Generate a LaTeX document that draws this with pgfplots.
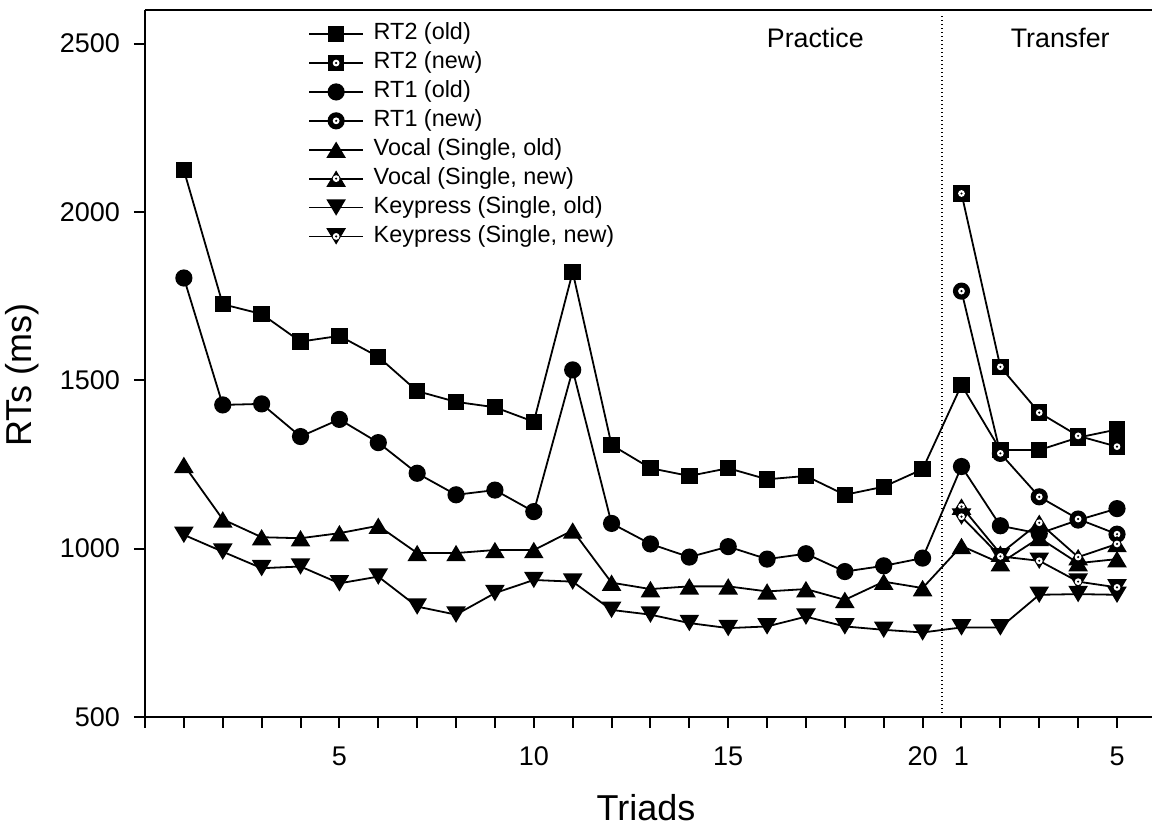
\documentclass[border=0pt]{standalone}
\usepackage{fontspec}
\setmainfont{Liberation Sans}
\usepackage{pgfplots}
\pgfplotsset{compat=1.18}

\newcommand{\whitedot}{%
  \pgfsetfillcolor{white}\pgfpathcircle{\pgfpointorigin}{1.7pt}\pgfusepathqfill
  \pgfsetfillcolor{black}\pgfpathcircle{\pgfpointorigin}{0.6pt}\pgfusepathqfill}
\pgfdeclareplotmark{msq}{\pgfsetfillcolor{black}\pgfpathrectangle{\pgfpoint{-4.1pt}{-4.1pt}}{\pgfpoint{8.2pt}{8.2pt}}\pgfusepathqfill}
\pgfdeclareplotmark{msqn}{\pgfsetfillcolor{black}\pgfpathrectangle{\pgfpoint{-4.1pt}{-4.1pt}}{\pgfpoint{8.2pt}{8.2pt}}\pgfusepathqfill\whitedot}
\pgfdeclareplotmark{mci}{\pgfsetfillcolor{black}\pgfpathcircle{\pgfpointorigin}{4.3pt}\pgfusepathqfill}
\pgfdeclareplotmark{mcin}{\pgfsetfillcolor{black}\pgfpathcircle{\pgfpointorigin}{4.3pt}\pgfusepathqfill\whitedot}
\pgfdeclareplotmark{mtu}{\pgfsetfillcolor{black}\pgfpathmoveto{\pgfpoint{0pt}{4.1pt}}\pgfpathlineto{\pgfpoint{-4.9pt}{-4.1pt}}\pgfpathlineto{\pgfpoint{4.9pt}{-4.1pt}}\pgfpathclose\pgfusepathqfill}
\pgfdeclareplotmark{mtun}{\pgfsetfillcolor{black}\pgfpathmoveto{\pgfpoint{0pt}{4.1pt}}\pgfpathlineto{\pgfpoint{-4.9pt}{-4.1pt}}\pgfpathlineto{\pgfpoint{4.9pt}{-4.1pt}}\pgfpathclose\pgfusepathqfill\whitedot}
\pgfdeclareplotmark{mtd}{\pgfsetfillcolor{black}\pgfpathmoveto{\pgfpoint{0pt}{-4.1pt}}\pgfpathlineto{\pgfpoint{-4.9pt}{4.1pt}}\pgfpathlineto{\pgfpoint{4.9pt}{4.1pt}}\pgfpathclose\pgfusepathqfill}
\pgfdeclareplotmark{mtdn}{\pgfsetfillcolor{black}\pgfpathmoveto{\pgfpoint{0pt}{-4.1pt}}\pgfpathlineto{\pgfpoint{-4.9pt}{4.1pt}}\pgfpathlineto{\pgfpoint{4.9pt}{4.1pt}}\pgfpathclose\pgfusepathqfill\whitedot}

\pgfplotstableread{
x rt2o rt1o vo ko
1 2124 1804 1249 1041
2 1726 1427 1087 991
3 1697 1430 1034 942
4 1615 1333 1031 947
5 1632 1384 1046 897
6 1570 1315 1068 917
7 1468 1224 987 828
8 1436 1160 987 804
9 1420 1174 996 868
10 1377 1110 996 907
11 1822 1531 1054 902
12 1308 1075 899 818
13 1239 1014 880 804
14 1216 975 888 779
15 1239 1006 888 764
16 1206 969 873 769
17 1216 985 880 798
18 1160 932 848 769
19 1184 949 902 759
20 1236 972 883 751
21 1486 1244 1008 766
22 1293 1068 957 766
23 1293 1045 1032 863
24 1330 1085 957 865
25 1354 1119 969 863
}\olddata
\pgfplotstableread{
x rt2n rt1n vn kn
21 2055 1765 1125 1095
22 1540 1283 985 977
23 1404 1154 1077 964
24 1335 1088 975 902
25 1303 1043 1014 885
}\newdata

\begin{document}
\begin{tikzpicture}
\begin{axis}[
  name=ax, at={(0,0)}, anchor=south west,
  scale only axis, width=503.5pt, height=353.5pt,
  xmin=0, xmax=25.9, ymin=500, ymax=2600,
  axis x line=box, axis y line=left,
  x axis line style={-}, y axis line style={-},
  axis line style={line width=1pt, black},
  xtick pos=lower, ytick pos=left,
  tick align=outside, major tick length=5.5pt,
  tick style={line width=1pt, black},
  xtick={0,1,...,25},
  xticklabels={,,,,,5,,,,,10,,,,,15,,,,,20,1,,,,5},
  ytick={500,1000,1500,2000,2500},
  yticklabels={500,1000,1500,2000,2500},
  ticklabel style={font=\fontsize{13.5}{16}\selectfont},
  xticklabel style={yshift=-6pt},
  yticklabel style={xshift=-3.5pt},
  xlabel={Triads}, ylabel={RTs (ms)},
  label style={font=\fontsize{18}{21}\selectfont},
  xlabel style={at={(axis description cs:0.4975,-0.128)}, anchor=center},
  ylabel style={at={(axis description cs:-0.1217,0.484)}, anchor=center},
  every axis plot/.append style={black, line width=0.9pt},
  legend cell align=left,
  legend style={at={(0.162,0.982)}, anchor=north west, draw=none, fill=none,
    inner sep=0pt, row sep=3.45pt, column sep=5pt,
    font=\fontsize{11.7}{13}\selectfont,
    nodes={inner sep=0pt, text height=8.4pt, text depth=2.6pt}},
  legend image code/.code={\draw[mark repeat=2,mark phase=2,#1] plot coordinates {(0pt,0pt) (13.35pt,0pt) (26.7pt,0pt)};},
]
\addplot[mark=msq] table[x=x,y=rt2o] {\olddata};
\addlegendentry{RT2 (old)}
\addplot[mark=msqn] table[x=x,y=rt2n] {\newdata};
\addlegendentry{RT2 (new)}
\addplot[mark=mci] table[x=x,y=rt1o] {\olddata};
\addlegendentry{RT1 (old)}
\addplot[mark=mcin] table[x=x,y=rt1n] {\newdata};
\addlegendentry{RT1 (new)}
\addplot[mark=mtu] table[x=x,y=vo] {\olddata};
\addlegendentry{Vocal (Single, old)}
\addplot[mark=mtun] table[x=x,y=vn] {\newdata};
\addlegendentry{Vocal (Single, new)}
\addplot[mark=mtd] table[x=x,y=ko] {\olddata};
\addlegendentry{Keypress (Single, old)}
\addplot[mark=mtdn] table[x=x,y=kn] {\newdata};
\addlegendentry{Keypress (Single, new)}
\draw[line width=0.6pt, dash pattern=on 0.5pt off 1.5pt] (axis cs:20.5,500) -- (axis cs:20.5,2584);
\node[font=\fontsize{13.4}{15}\selectfont, anchor=base] at (axis cs:17.24,2489) {Practice};
\node[font=\fontsize{13.4}{15}\selectfont, anchor=base] at (axis cs:23.54,2489) {Transfer};
\end{axis}
\pgfresetboundingbox
\useasboundingbox (-72.5pt,-56pt) rectangle (503.5pt,358.5pt);
\end{tikzpicture}
\end{document}
